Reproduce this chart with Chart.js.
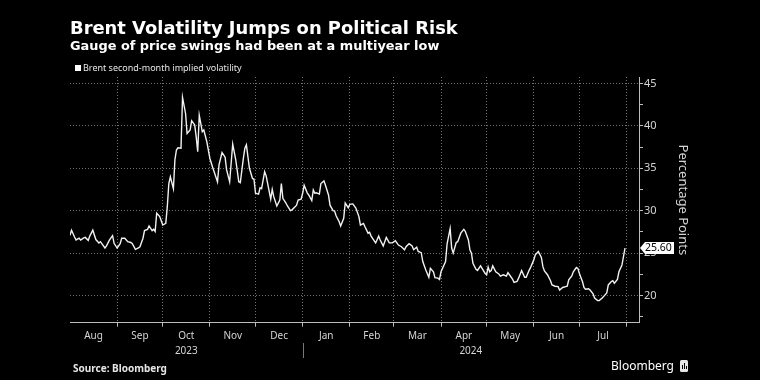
<!DOCTYPE html>
<html>
<head>
<meta charset="utf-8">
<script src="https://cdn.jsdelivr.net/npm/chart.js@4.4.1/dist/chart.umd.min.js"></script>
<style>
  html, body { margin: 0; padding: 0; background: #000; }
  #wrap { position: relative; width: 760px; height: 380px; overflow: hidden; font-family: "Noto Sans", sans-serif; color: #fff; }
  #wrap canvas { position: absolute; left: 0; top: 0; }
  .txt { position: absolute; white-space: nowrap; }
  #title { left: 70px; top: 18px; font-family: "DejaVu Sans", sans-serif; font-size: 17.9px; line-height: 20px; font-weight: 700; }
  #subtitle { left: 70px; top: 37.9px; font-family: "DejaVu Sans", sans-serif; font-size: 12.9px; line-height: 16px; font-weight: 700; }
  #swatch { position: absolute; left: 75px; top: 65px; width: 6px; height: 6px; background: #fff; }
  #legend { left: 83px; top: 62.3px; font-size: 9px; line-height: 11px; color: #e6e6e6; }
  #source { left: 73px; top: 361.5px; font-size: 10px; line-height: 12px; font-weight: 700; color: #e6e6e6; }
  #brand { left: 611px; top: 358px; font-size: 12px; line-height: 16px; color: #fff; }
  #icon { position: absolute; left: 680px; top: 360px; width: 8px; height: 12px; background: #e6e6e6; border-radius: 1.5px; }
  #icon i { position: absolute; bottom: 3px; width: 1px; background: #000; }
</style>
</head>
<body>
<div id="wrap">
  <canvas id="chart" width="760" height="380"></canvas>
  <div class="txt" id="title">Brent Volatility Jumps on Political Risk</div>
  <div class="txt" id="subtitle">Gauge of price swings had been at a multiyear low</div>
  <div id="swatch"></div>
  <div class="txt" id="legend">Brent second-month implied volatility</div>
  <div class="txt" id="source">Source: Bloomberg</div>
  <div class="txt" id="brand">Bloomberg</div>
  <div id="icon"><i style="left:2px;height:4px"></i><i style="left:4px;height:6px"></i><i style="left:6px;height:3px"></i></div>
</div>
<script>
// days counted from 1 Aug 2023
const startYear = 2023, startMonth = 7;
const days = [
  0, 1, 3, 4, 6, 7, 9, 10, 12, 13,
  15, 17, 19, 20, 23, 24, 26, 28, 29, 31,
  33, 34, 36, 38, 40, 41, 43, 45, 46, 48,
  49, 51, 52, 54, 55, 56, 57, 59, 61, 63,
  64, 65, 66, 68, 69, 70, 71, 73, 74, 76,
  77, 79, 80, 82, 83, 84, 85, 87, 88, 90,
  92, 94, 97, 98, 100, 102, 103, 105, 107, 109,
  111, 112, 114, 115, 116, 118, 120, 121, 122, 124,
  125, 126, 128, 129, 130, 132, 133, 134, 136, 138,
  139, 140, 142, 143, 145, 146, 148, 149, 150, 152,
  153, 154, 156, 157, 159, 160, 161, 162, 164, 165,
  167, 168, 170, 171, 173, 174, 175, 177, 178, 180,
  181, 183, 184, 186, 188, 190, 191, 193, 194, 196,
  197, 198, 201, 203, 204, 206, 208, 210, 212, 214,
  216, 218, 220, 221, 223, 225, 226, 228, 229, 231,
  232, 234, 236, 237, 239, 240, 242, 243, 244, 247,
  248, 250, 251, 252, 254, 255, 257, 259, 260, 262,
  263, 264, 265, 267, 268, 270, 271, 273, 274, 275,
  276, 277, 278, 280, 282, 283, 285, 287, 288, 289,
  291, 292, 294, 295, 297, 299, 300, 302, 303, 305,
  306, 308, 310, 311, 312, 314, 316, 317, 319, 321,
  322, 324, 326, 327, 328, 330, 331, 333, 334, 335,
  337, 338, 339, 341, 342, 344, 345, 347, 348, 350,
  351, 353, 354, 356, 357, 358, 360, 361, 363, 364,
  365
];
const vol = [
  27.1, 27.7, 26.9, 26.55, 26.75, 26.55, 26.8, 26.85, 26.5, 27.0,
  27.7, 26.6, 26.2, 26.35, 25.6, 25.85, 26.55, 27.05, 26.15, 25.6,
  26.1, 26.75, 26.75, 26.35, 26.25, 26.1, 25.45, 25.6, 25.75, 26.75,
  27.65, 27.8, 28.2, 27.65, 27.8, 27.55, 29.7, 29.3, 28.3, 28.5,
  30.5, 33.2, 34.0, 32.6, 36.0, 37.15, 37.4, 37.35, 43.35, 41.45,
  39.1, 39.5, 40.6, 40.1, 38.7, 36.95, 41.25, 39.3, 39.5, 38.1,
  36.15, 35.0, 33.4, 35.4, 36.85, 36.3, 34.8, 33.4, 37.85, 36.0,
  33.4, 33.3, 36.15, 37.35, 37.75, 35.0, 33.8, 33.7, 32.05, 31.95,
  32.7, 32.6, 34.6, 34.1, 33.2, 31.35, 32.5, 31.65, 30.55, 31.25,
  33.2, 31.45, 30.9, 30.55, 30.0, 30.1, 30.45, 30.65, 31.25, 31.35,
  32.05, 33.0, 32.1, 31.85, 31.2, 32.45, 32.05, 32.1, 31.95, 33.2,
  33.5, 33.0, 31.85, 30.65, 30.0, 29.95, 29.4, 28.7, 28.2, 29.1,
  30.9, 30.35, 30.75, 30.8, 30.3, 29.3, 28.3, 28.5, 28.1, 27.35,
  27.45, 27.0, 26.2, 27.0, 26.55, 25.85, 26.85, 26.2, 26.2, 26.45,
  25.95, 25.75, 25.4, 25.75, 26.1, 25.85, 25.4, 25.7, 25.2, 25.05,
  24.0, 23.0, 22.15, 23.2, 22.8, 22.1, 22.05, 21.9, 22.8, 24.0,
  26.1, 27.9, 25.6, 25.0, 26.25, 26.35, 27.35, 27.8, 27.55, 26.55,
  25.4, 25.0, 23.8, 23.1, 22.95, 23.5, 23.2, 22.6, 22.45, 23.35,
  22.8, 22.95, 23.5, 22.8, 22.55, 22.3, 22.45, 22.3, 22.7, 22.45,
  21.95, 21.55, 21.65, 22.05, 22.95, 22.15, 22.15, 23.0, 23.35, 24.2,
  24.8, 25.2, 24.5, 23.4, 22.9, 22.45, 21.75, 21.25, 21.1, 21.05,
  20.65, 20.95, 21.05, 21.1, 21.85, 22.3, 22.8, 23.3, 23.2, 22.6,
  21.65, 20.95, 20.75, 20.8, 20.65, 20.2, 19.7, 19.4, 19.4, 19.7,
  19.9, 20.3, 21.25, 21.65, 21.75, 21.45, 21.9, 22.8, 23.6, 24.6,
  25.6
];
const monthLabels = ['Aug', 'Sep', 'Oct', 'Nov', 'Dec', 'Jan', 'Feb', 'Mar', 'Apr', 'May', 'Jun', 'Jul'];
const yearLabels = ['2023', '2024'];
const yLabels = [20, 25, 30, 35, 40, 45];
const yMinorTicks = [17.5, 22.5, 27.5, 32.5, 37.5, 42.5];

const labelColor = '#d4d4d4';
const axisColor = '#bdbdbd';
const gridColor = '#707070';
const clear = 'rgba(0,0,0,0)';

const t0 = Date.UTC(startYear, startMonth, 1);
const dayOf = (y, m) => Math.round((Date.UTC(y, m, 1) - t0) / 86400000);
const monthEdges = [];
for (let i = 0; i <= monthLabels.length; i++) monthEdges.push(dayOf(startYear, startMonth + i));
const yearStart = dayOf(startYear + 1, 0);

const xTicks = [];
monthLabels.forEach((m, i) => {
  xTicks.push({ value: (monthEdges[i] + monthEdges[i + 1]) / 2, name: m });
  xTicks.push({ value: monthEdges[i + 1], edge: true, name: '' });
});

const extras = {
  id: 'extras',
  afterDraw(chart) {
    const { ctx, chartArea } = chart;
    const x = chart.scales.x, y = chart.scales.y;
    ctx.save();
    // year labels under the months
    ctx.font = '10px "Noto Sans", sans-serif';
    ctx.fillStyle = labelColor;
    ctx.textAlign = 'center';
    ctx.textBaseline = 'middle';
    const spans = [[x.min, yearStart], [yearStart, x.max]];
    spans.forEach((s, i) => {
      const cx = (x.getPixelForValue(s[0]) + x.getPixelForValue(s[1])) / 2;
      ctx.fillText(yearLabels[i], cx, 351);
    });
    const sx = Math.round(x.getPixelForValue(yearStart)) + 0.5;
    ctx.strokeStyle = '#777';
    ctx.lineWidth = 1;
    ctx.beginPath();
    ctx.moveTo(sx, 343);
    ctx.lineTo(sx, 358);
    ctx.stroke();

    // last value tag
    const last = vol[vol.length - 1];
    const py = y.getPixelForValue(last);
    const x0 = chartArea.right + 1;
    ctx.fillStyle = '#fff';
    ctx.beginPath();
    ctx.moveTo(x0, py);
    ctx.lineTo(x0 + 5, py - 6);
    ctx.lineTo(x0 + 34, py - 6);
    ctx.lineTo(x0 + 34, py + 6);
    ctx.lineTo(x0 + 5, py + 6);
    ctx.closePath();
    ctx.fill();
    ctx.fillStyle = '#000';
    ctx.textAlign = 'left';
    ctx.font = '10.5px "Noto Sans", sans-serif';
    ctx.fillText(last.toFixed(2), x0 + 5, py + 0.5);
    ctx.restore();
  }
};

Chart.defaults.font.family = '"Noto Sans", sans-serif';

new Chart(document.getElementById('chart'), {
  type: 'line',
  data: {
    datasets: [{
      label: 'Brent second-month implied volatility',
      data: days.map((d, i) => ({ x: d, y: vol[i] })),
      borderColor: '#f2f2f2',
      borderWidth: 1.4,
      pointRadius: 0,
      fill: false,
      tension: 0
    }]
  },
  options: {
    responsive: false,
    animation: false,
    layout: { padding: { left: 70, right: 60, top: 77, bottom: 27.3 } },
    plugins: { legend: { display: false }, tooltip: { enabled: false } },
    scales: {
      x: {
        type: 'linear',
        min: 0,
        max: 374.2,
        afterBuildTicks: s => { s.ticks = xTicks.slice(); },
        afterFit: s => { s.height = 30; },
        grid: {
          color: c => (c.tick && c.tick.edge) ? gridColor : clear,
          tickColor: c => (c.tick && c.tick.edge) ? axisColor : clear,
          tickLength: 4,
          lineWidth: 1
        },
        border: { display: true, color: axisColor, width: 1, dash: [1, 2] },
        ticks: {
          autoSkip: false,
          maxRotation: 0,
          color: labelColor,
          font: { size: 10 },
          padding: 3,
          callback: (v, i, t) => t[i].name || ''
        }
      },
      y: {
        type: 'linear',
        position: 'right',
        min: 16.8,
        max: 45.75,
        afterBuildTicks: s => {
          s.ticks = yMinorTicks.concat(yLabels).sort((a, b) => a - b).map(v => ({ value: v }));
        },
        afterFit: s => { s.width = 61; },
        grid: {
          color: c => (c.tick && yLabels.includes(c.tick.value)) ? gridColor : clear,
          tickColor: axisColor,
          tickLength: 4,
          lineWidth: 1
        },
        border: { display: true, color: axisColor, width: 1, dash: [1, 2] },
        ticks: {
          autoSkip: false,
          color: labelColor,
          font: { size: 11 },
          padding: 1,
          callback: v => yLabels.includes(v) ? String(v) : ''
        },
        title: {
          display: true,
          text: 'Percentage Points',
          color: labelColor,
          font: { size: 13 },
          padding: { top: 9, bottom: 0 }
        }
      }
    }
  },
  plugins: [extras]
});
</script>
</body>
</html>
